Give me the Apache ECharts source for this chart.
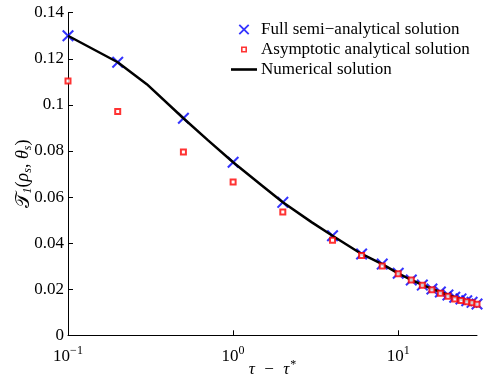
<!DOCTYPE html>
<html><head><meta charset="utf-8">
<script src="https://cdn.jsdelivr.net/npm/echarts@6/dist/echarts.min.js"></script>
<style>html,body{margin:0;padding:0;background:#fff}#c{width:483px;height:381px}</style>
</head><body><div id="c"></div>
<script>
const tauFull = [0.1,0.2,0.5,1,2,4,6,8,10,12,14,16,18,20,22,24,26,28,30];
const fullVals = [0.130,0.1185,0.0942,0.0751,0.0577,0.0432,0.0353,0.0309,0.0269,0.0240,0.0218,0.0201,0.0188,0.0175,0.0165,0.0158,0.0150,0.0143,0.0136];
const tauAsym = [0.1,0.2,0.5,1,2,4,6,8,10,12,14,16,18,20,22,24,26,28,30];
const asymVals = [0.1104,0.0971,0.0796,0.0665,0.0535,0.0413,0.0346,0.0301,0.0267,0.0240,0.0217,0.0198,0.0182,0.0169,0.0158,0.0151,0.0146,0.0141,0.0135];
const tauNum = [0.1,0.2,0.3,0.5,0.7,1,1.5,2,3,4,6,8,10,12,15,20,25,30];
const numVals = [0.130,0.1185,0.1090,0.0942,0.0848,0.0751,0.0649,0.0577,0.0490,0.0432,0.0353,0.0309,0.0269,0.0240,0.0210,0.0175,0.0152,0.0136];
const yTicks = ['0','0.02','0.04','0.06','0.08','0.1','0.12','0.14'];
const xTickLabels = {'0.1':'-1','1':'0','10':'1'};

const zip = (a,b)=>a.map((v,i)=>[v,b[i]]);
const crossPath = 'path://M0,1.2 L1.2,0 L5,3.8 L8.8,0 L10,1.2 L6.2,5 L10,8.8 L8.8,10 L5,6.2 L1.2,10 L0,8.8 L3.8,5 Z';
const crossIcon = 'path://M0,0L0.05,0L0,0.05Z M0.6,1.8 L1.8,0.6 L5.6,4.4 L9.4,0.6 L10.6,1.8 L6.8,5.6 L10.6,9.4 L9.4,10.6 L5.6,6.8 L1.8,10.6 L0.6,9.4 L4.4,5.6 Z M11.2,11.2L11.15,11.2L11.2,11.15Z';
const squareIcon = 'path://M0,0L0.05,0L0,0.05Z M3,3 H9 V9 H3 Z M4.6,4.6 V7.4 H7.4 V4.6 Z M12,12L11.95,12L12,11.95Z';
const lineIcon = 'path://M0,0 H26 V2.6 H0 Z';
const FONT = 'Liberation Serif';
const chart = echarts.init(document.getElementById('c'));
chart.setOption({
  animation:false,
  backgroundColor:'#fff',
  textStyle:{fontFamily:FONT},
  grid:{left:68,right:6,top:12.7,bottom:45.7,containLabel:false,outerBoundsMode:'none'},
  legend:{
    left:226, top:16, orient:'vertical', itemGap:3, itemWidth:26, itemHeight:12,
    textStyle:{fontFamily:FONT,fontSize:17,color:'#000',lineHeight:16,padding:[0,0,0,-1]},
    data:[
      {name:'Full semi\u2212analytical solution',icon:crossIcon,itemStyle:{color:'#0000ff'}},
      {name:'Asymptotic analytical solution',icon:squareIcon,itemStyle:{color:'#ff0000',borderWidth:0}},
      {name:'Numerical solution',icon:lineIcon,itemStyle:{color:'#000'},lineStyle:{width:0}}
    ]
  },
  xAxis:{
    type:'log', logBase:10, min:0.1, max:30,
    name:'{t|\u03c4  \u2212  \u03c4}{s|*}', nameLocation:'middle', nameGap:24, nameMoveOverlap:false,
    nameTextStyle:{rich:{
      t:{fontFamily:FONT,fontSize:17,fontStyle:'italic',color:'#000'},
      s:{fontFamily:FONT,fontSize:12,color:'#000',padding:[0,0,8,1]}
    }},
    axisLine:{lineStyle:{color:'#000',width:1}},
    axisTick:{inside:true,length:5,lineStyle:{color:'#000'}},
    minorTick:{show:false},
    splitLine:{show:false},
    axisLabel:{
      showMaxLabel:false, margin:10,
      formatter:v=>{const e=xTickLabels[String(+v.toPrecision(6))];return e===undefined?'':'{b|10}{s|'+e.replace('-','\u2212')+'}';},
      rich:{b:{fontFamily:FONT,fontSize:17,color:'#000'},s:{fontFamily:FONT,fontSize:12,color:'#000',padding:[0,0,11,0]}}
    }
  },
  yAxis:{
    type:'value', min:0, max:0.14, interval:0.02,
    name:'{t|\ud835\udcaf}{s|1}{n|(}{g|\u03c1}{s|s}{n|, }{g|\u03b8}{s|s}{n|)}', nameLocation:'middle', nameGap:34, nameRotate:90, nameMoveOverlap:false,
    nameTextStyle:{rich:{
      t:{fontFamily:FONT,fontSize:20,color:'#000'},
      n:{fontFamily:FONT,fontSize:18,color:'#000'},
      g:{fontFamily:FONT,fontSize:18,fontStyle:'italic',color:'#000'},
      s:{fontFamily:FONT,fontSize:12,fontStyle:'italic',color:'#000',padding:[9,0,0,0]}
    }},
    axisLine:{show:true,lineStyle:{color:'#000',width:1}},
    axisTick:{show:true,inside:true,length:5,lineStyle:{color:'#000'}},
    splitLine:{show:false},
    axisLabel:{fontFamily:FONT,fontSize:17,color:'#000',margin:4,formatter:v=>yTicks[Math.round(v/0.02)]}
  },
  series:[
    {name:'Full semi\u2212analytical solution',type:'scatter',data:zip(tauFull,fullVals),symbol:crossPath,symbolSize:12,itemStyle:{color:'#0000ff'},z:2},
    {name:'Asymptotic analytical solution',type:'scatter',data:zip(tauAsym,asymVals),symbol:'rect',symbolSize:5,itemStyle:{color:'#fff',borderColor:'#ff0000',borderWidth:2},z:4},
    {name:'Numerical solution',type:'line',data:zip(tauNum,numVals),showSymbol:false,symbol:'none',lineStyle:{color:'#000',width:2.5},itemStyle:{color:'#000'},z:3}
  ]
});
</script></body></html>
